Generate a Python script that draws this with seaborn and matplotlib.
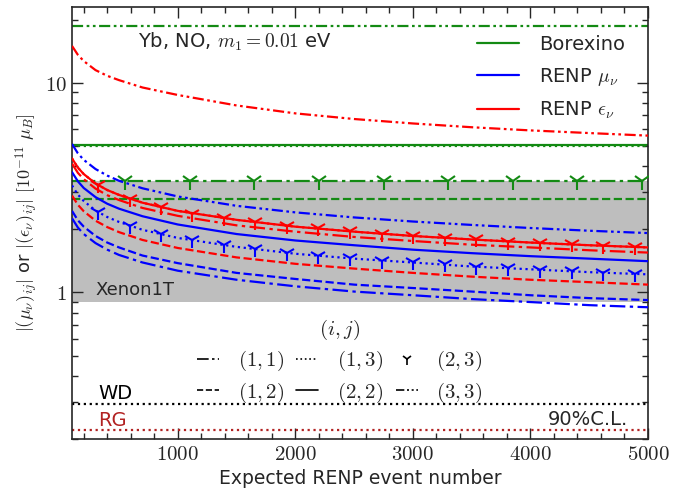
import numpy as np
import pandas as pd
import matplotlib
matplotlib.use("Agg")
import matplotlib.pyplot as plt
from matplotlib.lines import Line2D
from matplotlib.ticker import MultipleLocator, FuncFormatter, NullFormatter, LogLocator
import seaborn as sns

# ---------------- data ----------------
N = [100, 150, 200, 300, 400, 500, 700, 1000, 1500, 2000, 2500, 3000, 3500, 4000, 4500, 5000]

mu_11 = [2.26, 2.04, 1.90, 1.72, 1.60, 1.51, 1.39, 1.27, 1.15, 1.07, 1.01, 0.97, 0.93, 0.90, 0.87, 0.85]
mu_12 = [2.45, 2.21, 2.06, 1.86, 1.73, 1.64, 1.50, 1.38, 1.24, 1.16, 1.09, 1.05, 1.01, 0.97, 0.94, 0.92]
mu_13 = [3.24, 2.93, 2.73, 2.46, 2.29, 2.17, 1.99, 1.82, 1.65, 1.53, 1.45, 1.39, 1.33, 1.29, 1.25, 1.22]
mu_22 = [3.75, 3.39, 3.15, 2.85, 2.65, 2.51, 2.31, 2.11, 1.90, 1.77, 1.68, 1.60, 1.54, 1.49, 1.45, 1.41]
mu_33 = [5.11, 4.61, 4.29, 3.88, 3.61, 3.41, 3.14, 2.87, 2.59, 2.41, 2.28, 2.18, 2.10, 2.03, 1.97, 1.92]

eps_11 = [4.12, 3.72, 3.47, 3.13, 2.91, 2.76, 2.53, 2.32, 2.09, 1.95, 1.84, 1.76, 1.69, 1.64, 1.59, 1.55]
eps_12 = [2.90, 2.62, 2.44, 2.20, 2.05, 1.94, 1.78, 1.63, 1.47, 1.37, 1.30, 1.24, 1.19, 1.15, 1.12, 1.09]
eps_13 = [4.36, 3.94, 3.67, 3.31, 3.08, 2.92, 2.68, 2.45, 2.22, 2.06, 1.95, 1.86, 1.79, 1.73, 1.68, 1.64]
eps_22 = [4.36, 3.94, 3.67, 3.31, 3.08, 2.92, 2.68, 2.45, 2.22, 2.06, 1.95, 1.86, 1.79, 1.73, 1.68, 1.64]
eps_33 = [15.0, 13.6, 12.7, 11.5, 10.8, 10.3, 9.5, 8.75, 7.8, 7.15, 6.72, 6.40, 6.14, 5.93, 5.76, 5.60]

# (2,3) shown as markers only
N_23 = [320, 590, 855, 1120, 1390, 1655, 1925, 2195, 2465, 2735, 3000, 3270, 3540, 3810, 4080, 4350, 4620, 4890]
mu_23 = [2.43, 2.08, 1.90, 1.77, 1.68, 1.61, 1.55, 1.50, 1.46, 1.42, 1.39, 1.36, 1.33, 1.31, 1.28, 1.26, 1.24, 1.23]
eps_23 = [3.26, 2.80, 2.55, 2.38, 2.26, 2.16, 2.08, 2.02, 1.96, 1.91, 1.86, 1.82, 1.79, 1.75, 1.73, 1.70, 1.67, 1.65]

# Borexino limits (horizontal)
bx_11, bx_12, bx_13, bx_22, bx_33 = 3.40, 2.80, 4.97, 5.07, 18.7
N_bx23 = [550, 1100, 1650, 2200, 2750, 3300, 3850, 4400, 4950]
bx_23 = [3.40] * len(N_bx23)

xenon_low, xenon_high = 0.905, 3.40
wd_limit, rg_limit = 0.295, 0.221

# ---------------- style ----------------
sns.set_style("ticks")
plt.rcParams["font.family"] = ["DejaVu Sans"]
plt.rcParams["mathtext.fontset"] = "cm"

fig = plt.figure(figsize=(6.94, 4.94), dpi=100)
ax = fig.add_axes([72 / 694, 1 - 439 / 494, (648 - 72) / 694, (439 - 7) / 494])

dashdot = (0, (7, 2, 1.5, 2))
dashdotdot = (0, (5, 1.6, 1.2, 1.6, 1.2, 1.6))
styles = {"11": dashdot, "12": "--", "13": ":", "22": "-", "33": dashdotdot}
lw = 1.6

# Xenon1T band
ax.axhspan(xenon_low, xenon_high, color="#bebebe", zorder=0, lw=0)

# Borexino
green = "#138a13"
blue = "#0000ff"
red = "#ff0000"
for val, key in [(bx_11, "11"), (bx_12, "12"), (bx_13, "13"), (bx_22, "22"), (bx_33, "33")]:
    ax.axhline(val, color=green, ls=styles[key], lw=lw, zorder=2)
sns.lineplot(x=N_bx23, y=bx_23, ax=ax, color=green, marker="1", markersize=13,
             markeredgewidth=1.5, markeredgecolor=green, linestyle="", zorder=3)

# RENP curves
for key, mu, eps in [("13", mu_13, eps_13), ("11", mu_11, eps_11), ("12", mu_12, eps_12),
                     ("22", mu_22, eps_22), ("33", mu_33, eps_33)]:
    sns.lineplot(x=N, y=mu, ax=ax, color=blue, linestyle=styles[key], lw=lw, zorder=4)
    sns.lineplot(x=N, y=eps, ax=ax, color=red, linestyle=styles[key], lw=lw, zorder=4)
sns.lineplot(x=N_23, y=mu_23, ax=ax, color=blue, marker="1", markersize=12,
             markeredgewidth=1.5, markeredgecolor=blue, linestyle="", zorder=5)
sns.lineplot(x=N_23, y=eps_23, ax=ax, color=red, marker="1", markersize=12,
             markeredgewidth=1.5, markeredgecolor=red, linestyle="", zorder=5)

# WD / RG
ax.axhline(wd_limit, color="black", ls=":", lw=lw)
ax.axhline(rg_limit, color="#b22222", ls=":", lw=lw)

# axes
ax.set_yscale("log")
ax.set_xlim(100, 5000)
ax.set_ylim(0.2, 23)
ax.xaxis.set_major_locator(MultipleLocator(1000))
ax.xaxis.set_minor_locator(MultipleLocator(200))
ax.xaxis.set_major_formatter(FuncFormatter(lambda v, p: f"${v:.0f}$"))
ax.yaxis.set_major_locator(LogLocator(base=10))
ax.yaxis.set_minor_locator(LogLocator(base=10, subs=np.arange(2, 10)))
ax.yaxis.set_major_formatter(FuncFormatter(lambda v, p: f"${v:g}$"))
ax.yaxis.set_minor_formatter(NullFormatter())
ax.tick_params(which="both", direction="in", top=True, right=True, labelsize=15)
ax.tick_params(which="major", length=8, width=1)
ax.tick_params(which="minor", length=4, width=1)
for s in ax.spines.values():
    s.set_linewidth(1.2)

ax.set_xlabel("Expected RENP event number", fontsize=13.5, labelpad=4)
ax.set_ylabel(r"$|(\mu_\nu)_{ij}|$ or $|(\epsilon_\nu)_{ij}|$ $[10^{-11}\ \mu_B]$", fontsize=13)

# texts
ax.text(0.115, 0.92, r"Yb, NO, $m_1 = 0.01$ eV", transform=ax.transAxes, fontsize=14, va="center")
ax.text(0.04, 0.345, "Xenon1T", transform=ax.transAxes, fontsize=13, va="center")
ax.text(0.045, 0.105, "WD", transform=ax.transAxes, fontsize=14, va="center", color="black")
ax.text(0.045, 0.043, "RG", transform=ax.transAxes, fontsize=14, va="center", color="#b22222")
ax.text(0.965, 0.045, "90%C.L.", transform=ax.transAxes, fontsize=14, va="center", ha="right")

# legend 1
h1 = [Line2D([], [], color=green, lw=lw), Line2D([], [], color=blue, lw=lw),
      Line2D([], [], color=red, lw=lw)]
leg1 = ax.legend(h1, ["Borexino", r"RENP $\mu_\nu$", r"RENP $\epsilon_\nu$"], loc="upper right",
                 bbox_to_anchor=(0.99, 0.975), frameon=False, fontsize=14, handlelength=2.2,
                 handletextpad=1.0, labelspacing=0.6)
ax.add_artist(leg1)

# legend 2
h2 = [Line2D([], [], color="k", ls=dashdot, lw=1.2), Line2D([], [], color="k", ls="--", lw=1.2),
      Line2D([], [], color="k", ls=":", lw=1.2), Line2D([], [], color="k", ls="-", lw=1.2),
      Line2D([], [], color="k", marker="1", ls="", markersize=8, markeredgewidth=1.2),
      Line2D([], [], color="k", ls=dashdotdot, lw=1.2)]
lab2 = ["$(1,1)$", "$(1,2)$", "$(1,3)$", "$(2,2)$", "$(2,3)$", "$(3,3)$"]
leg2 = ax.legend(h2, lab2, loc="center", bbox_to_anchor=(0.465, 0.18), ncol=3, frameon=False,
                 fontsize=15, handlelength=1.05, handletextpad=0.9, title="$(i,j)$",
                 title_fontsize=15, columnspacing=0.6, labelspacing=0.35)

fig.savefig("out.png", dpi=100)
